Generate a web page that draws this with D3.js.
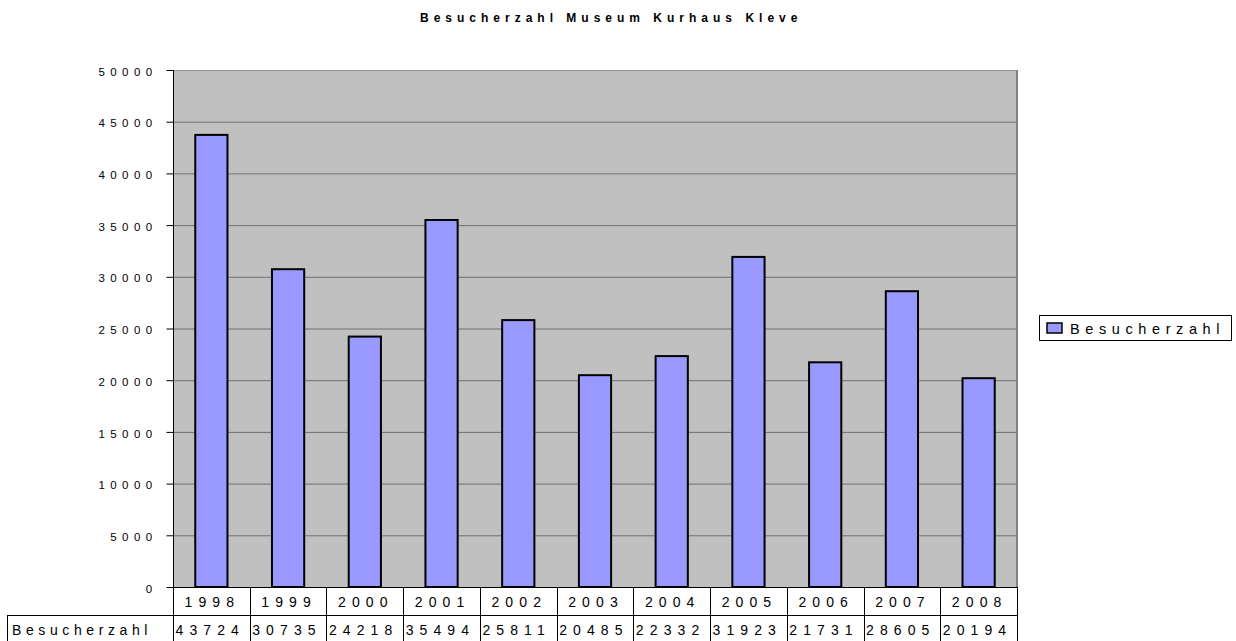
<!DOCTYPE html>
<html>
<head>
<meta charset="utf-8">
<script src="https://cdn.jsdelivr.net/npm/d3@7"></script>
<style>
  body { margin: 0; background: #fff; }
  text { font-family: "Liberation Sans", Arial, sans-serif; fill: #000; }
</style>
</head>
<body>
<div class="chart"></div>
<script>
// data
const years = ['1998','1999','2000','2001','2002','2003','2004','2005','2006','2007','2008'];
const visitors = [43724, 30735, 24218, 35494, 25811, 20485, 22332, 31923, 21731, 28605, 20194];
const yTicks = [0, 5000, 10000, 15000, 20000, 25000, 30000, 35000, 40000, 45000, 50000];
const seriesName = 'Besucherzahl';
const title = 'Besucherzahl Museum Kurhaus Kleve';

const width = 1236;
const height = 641;
const plotL = 173, plotR = 1017, plotT = 70, plotB = 587;
const rowH = 28;

const svg = d3.select('.chart')
  .append('svg')
  .attr('width', width)
  .attr('height', height)

const x = d3.scaleBand()
  .domain(years)
  .range([plotL, plotR])
  .paddingInner(0.58)
  .paddingOuter(0.29)

const xCell = d3.scaleBand()
  .domain(years)
  .range([plotL, plotR])

const y = d3.scaleLinear()
  .domain([0, 50000])
  .range([plotB, plotT])

// plot background
svg.append('rect')
  .attr('x', plotL).attr('y', plotT)
  .attr('width', plotR - plotL).attr('height', plotB - plotT)
  .attr('fill', '#c0c0c0')

// gridlines
svg.selectAll('.grid')
  .data(yTicks.filter(d => d > 0))
  .enter()
  .append('line')
  .attr('x1', plotL).attr('x2', plotR)
  .attr('y1', d => y(d) + 0.5).attr('y2', d => y(d) + 0.5)
  .attr('stroke', d => d == 50000 ? '#909090' : '#707070')
  .attr('stroke-width', 1)

// right border
svg.append('line')
  .attr('x1', plotR).attr('x2', plotR)
  .attr('y1', plotT).attr('y2', plotB)
  .attr('stroke', '#808080')
  .attr('stroke-width', 2)

// bars
svg.selectAll('.bar')
  .data(visitors)
  .enter()
  .append('rect')
  .attr('x', (d, i) => x(years[i]))
  .attr('y', d => y(d))
  .attr('width', x.bandwidth())
  .attr('height', d => plotB - y(d))
  .attr('fill', '#9999ff')
  .attr('stroke', '#000')
  .attr('stroke-width', 2)

// y axis
const yAxis = d3.axisLeft(y)
  .tickValues(yTicks)
  .tickSize(7)
  .tickPadding(9)
  .tickFormat(d3.format('d'))

const ya = svg.append('g')
  .attr('transform', 'translate(' + (plotL + 0.5) + ',0)')
  .call(yAxis)
ya.select('.domain').attr('stroke', '#000').attr('d', 'M0,' + plotT + 'V' + plotB)
ya.selectAll('.tick line').attr('stroke', '#000')
ya.selectAll('.tick text')
  .attr('dy', '0.45em')
  .attr('font-size', 11.5)
  .attr('letter-spacing', 5.4)
  .attr('font-family', '"Liberation Sans", Arial, sans-serif')

// data table
const tbl = svg.append('g')
tbl.append('line')
  .attr('x1', plotL).attr('x2', plotR)
  .attr('y1', plotB + 0.5).attr('y2', plotB + 0.5)
  .attr('stroke', '#000')
tbl.append('line')
  .attr('x1', 7).attr('x2', plotR)
  .attr('y1', plotB + rowH + 0.5).attr('y2', plotB + rowH + 0.5)
  .attr('stroke', '#000')
tbl.append('line')
  .attr('x1', 7.5).attr('x2', 7.5)
  .attr('y1', plotB + rowH).attr('y2', height)
  .attr('stroke', '#000')
tbl.selectAll('.vline')
  .data(years.concat(['end']))
  .enter()
  .append('line')
  .attr('x1', d => Math.round(d == 'end' ? plotR : xCell(d)) + 0.5)
  .attr('x2', d => Math.round(d == 'end' ? plotR : xCell(d)) + 0.5)
  .attr('y1', plotB).attr('y2', height)
  .attr('stroke', '#000')

tbl.selectAll('.year')
  .data(years)
  .enter()
  .append('text')
  .attr('x', d => xCell(d) + xCell.bandwidth() / 2 + 1)
  .attr('y', plotB + 20)
  .attr('text-anchor', 'middle')
  .attr('font-size', 14)
  .attr('letter-spacing', 6.1)
  .text(d => d)

tbl.selectAll('.val')
  .data(visitors)
  .enter()
  .append('text')
  .attr('x', (d, i) => xCell(years[i]) + 2.5)
  .attr('y', plotB + rowH + 20)
  .attr('font-size', 14)
  .attr('letter-spacing', 6.1)
  .text(d => d)

tbl.append('text')
  .attr('x', 12)
  .attr('y', plotB + rowH + 20)
  .attr('font-size', 14)
  .attr('letter-spacing', 4.6)
  .text(seriesName)

// legend
const leg = svg.append('g')
leg.append('rect')
  .attr('x', 1039.5).attr('y', 315.5)
  .attr('width', 192).attr('height', 25)
  .attr('fill', '#fff')
  .attr('stroke', '#000')
leg.append('rect')
  .attr('x', 1047).attr('y', 323)
  .attr('width', 15).attr('height', 10)
  .attr('fill', '#9999ff')
  .attr('stroke', '#000')
  .attr('stroke-width', 1.5)
leg.append('text')
  .attr('x', 1070).attr('y', 334)
  .attr('font-size', 14.5)
  .attr('letter-spacing', 5.6)
  .text(seriesName)

// title
svg.append('text')
  .attr('x', 420).attr('y', 22)
  .attr('font-size', 12)
  .attr('font-weight', 'bold')
  .attr('letter-spacing', 5)
  .text(title)
</script>
</body>
</html>
